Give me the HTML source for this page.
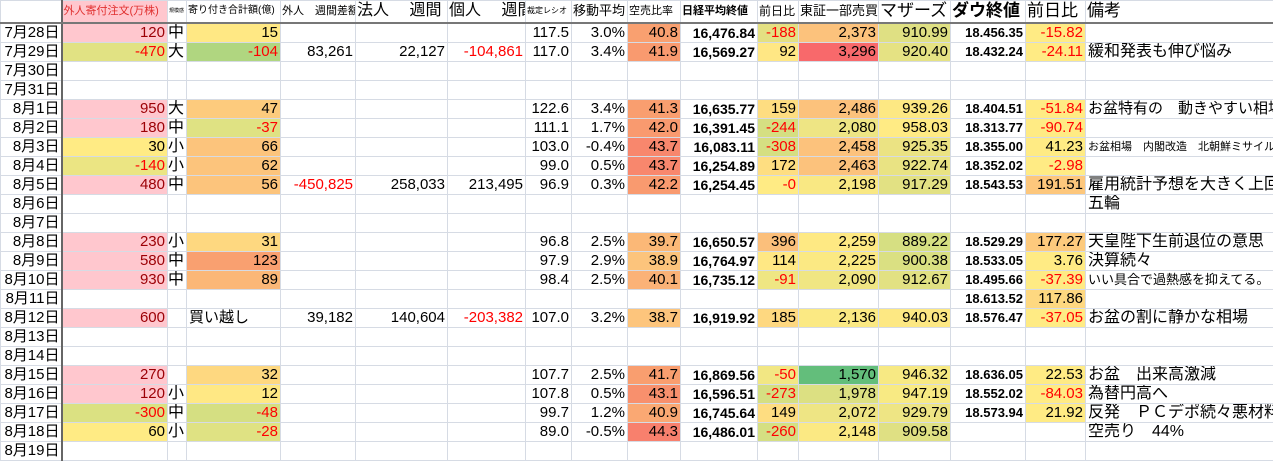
<!DOCTYPE html>
<html><head><meta charset="utf-8"><style>
body{margin:0;background:#fff;width:1273px;height:445px;overflow:hidden}
table{width:1273px;border-collapse:collapse;table-layout:fixed;font-family:"Liberation Sans","Noto Sans CJK JP",sans-serif;font-size:15px;color:#000}
td{height:18px;border:1px solid #d6dbe4;padding:0 2px;text-align:right;white-space:nowrap;overflow:hidden;line-height:18px;box-sizing:border-box}
tr{height:19px}
tr.h{height:22px}
tr.h td{height:22px;border-bottom:2px solid #777;font-size:13px;text-align:left;padding:0 1px}
td.d{border-right:2px solid #666;text-align:right;padding:0 1px}
.n{color:#f00}.p{background:#ffc7ce;color:#9c0006}
.b{font-weight:bold;font-size:14px}.bs{font-weight:bold;font-size:13px}
td.l{text-align:left}
td.s{text-align:left;padding:0;font-size:16px}
</style></head><body>
<table>
<colgroup><col style="width:61px"><col style="width:106px"><col style="width:19px"><col style="width:94px"><col style="width:75px"><col style="width:92px"><col style="width:78px"><col style="width:46px"><col style="width:56px"><col style="width:53px"><col style="width:77px"><col style="width:41px"><col style="width:80px"><col style="width:72px"><col style="width:75px"><col style="width:60px"><col style="width:188px"></colgroup>
<tr class="h"><td class="d"></td><td style="background:#ffc7ce;color:#e0302f;font-size:11px">外人寄付注文(万株)</td><td style="font-size:5px">規模感</td><td style="font-size:10px">寄り付き合計額(億)</td><td style="font-size:11px">外人　週間差額</td><td style="font-size:16px">法人　 週間</td><td style="font-size:16px">個人　 週間</td><td style="font-size:8px">裁定レシオ</td><td style="font-size:13px">移動平均</td><td style="font-size:11px">空売比率</td><td style="font-size:11px;font-weight:bold">日経平均終値</td><td style="font-size:12px">前日比</td><td style="font-size:13px">東証一部売買</td><td style="font-size:17px">マザーズ</td><td style="font-size:17px;font-weight:bold">ダウ終値</td><td style="font-size:17px">前日比</td><td style="font-size:17px">備考</td></tr>
<tr><td class="d">7月28日</td><td class="p">120</td><td class="s">中</td><td style="background:#ffe884">15</td><td></td><td></td><td></td><td>117.5</td><td>3.0%</td><td style="background:#f9a070">40.8</td><td class="b">16,476.84</td><td class="n" style="background:#e4e082">-188</td><td style="background:#fcc27c">2,373</td><td style="background:#dfe083">910.99</td><td class="bs">18.456.35</td><td class="n" style="background:#ffeb84">-15.82</td><td></td></tr>
<tr><td class="d">7月29日</td><td class="n" style="background:#e1e283">-470</td><td class="s">大</td><td class="n" style="background:#b0d680">-104</td><td>83,261</td><td>22,127</td><td class="n">-104,861</td><td>117.0</td><td>3.4%</td><td style="background:#f99a6f">41.9</td><td class="b">16,569.27</td><td style="background:#ffe784">92</td><td style="background:#f8696b">3,296</td><td style="background:#e5e283">920.40</td><td class="bs">18.432.24</td><td class="n" style="background:#ffeb84">-24.11</td><td class="l" style="font-size:16px">緩和発表も伸び悩み</td></tr>
<tr><td class="d">7月30日</td><td></td><td></td><td></td><td></td><td></td><td></td><td></td><td></td><td></td><td></td><td></td><td></td><td></td><td></td><td></td><td></td></tr>
<tr><td class="d">7月31日</td><td></td><td></td><td></td><td></td><td></td><td></td><td></td><td></td><td></td><td></td><td></td><td></td><td></td><td></td><td></td><td></td></tr>
<tr><td class="d">8月1日</td><td class="p">950</td><td class="s">大</td><td style="background:#fdcb7d">47</td><td></td><td></td><td></td><td>122.6</td><td>3.4%</td><td style="background:#f99e6f">41.3</td><td class="b">16,635.77</td><td style="background:#fedd81">159</td><td style="background:#fcc27c">2,486</td><td style="background:#fde883">939.26</td><td class="bs">18.404.51</td><td class="n" style="background:#ffeb84">-51.84</td><td class="l">お盆特有の　動きやすい相場</td></tr>
<tr><td class="d">8月2日</td><td class="p">180</td><td class="s">中</td><td class="n" style="background:#dfe283">-37</td><td></td><td></td><td></td><td>111.1</td><td>1.7%</td><td style="background:#f99a6f">42.0</td><td class="b">16,391.45</td><td class="n" style="background:#d5df82">-244</td><td style="background:#eee584">2,080</td><td style="background:#ffeb84">958.03</td><td class="bs">18.313.77</td><td class="n" style="background:#ffeb84">-90.74</td><td></td></tr>
<tr><td class="d">8月3日</td><td style="background:#ffeb84">30</td><td class="s">小</td><td style="background:#fcc47c">66</td><td></td><td></td><td></td><td>103.0</td><td>-0.4%</td><td style="background:#f8876d">43.7</td><td class="b">16,083.11</td><td class="n" style="background:#d5df82">-308</td><td style="background:#fcc27c">2,458</td><td style="background:#ebe383">925.35</td><td class="bs">18.355.00</td><td style="background:#ffeb84">41.23</td><td class="l" style="font-size:11px">お盆相場　内閣改造　北朝鮮ミサイル</td></tr>
<tr><td class="d">8月4日</td><td class="n" style="background:#ebe583">-140</td><td class="s">小</td><td style="background:#fcc47c">62</td><td></td><td></td><td></td><td>99.0</td><td>0.5%</td><td style="background:#f8876d">43.7</td><td class="b">16,254.89</td><td style="background:#fede81">172</td><td style="background:#fcc27c">2,463</td><td style="background:#e9e383">922.74</td><td class="bs">18.352.02</td><td class="n" style="background:#ffeb84">-2.98</td><td></td></tr>
<tr><td class="d">8月5日</td><td class="p">480</td><td class="s">中</td><td style="background:#fcc47c">56</td><td class="n">-450,825</td><td>258,033</td><td>213,495</td><td>96.9</td><td>0.3%</td><td style="background:#f99a6f">42.2</td><td class="b">16,254.45</td><td class="n" style="background:#ffeb84">-0</td><td style="background:#f9e883">2,198</td><td style="background:#e2e183">917.29</td><td class="bs">18.543.53</td><td style="background:#fdc77c">191.51</td><td class="l" style="font-size:16px">雇用統計予想を大きく上回る</td></tr>
<tr><td class="d">8月6日</td><td></td><td></td><td></td><td></td><td></td><td></td><td></td><td></td><td></td><td></td><td></td><td></td><td></td><td></td><td></td><td class="l" style="font-size:16px">五輪</td></tr>
<tr><td class="d">8月7日</td><td></td><td></td><td></td><td></td><td></td><td></td><td></td><td></td><td></td><td></td><td></td><td></td><td></td><td></td><td></td><td></td></tr>
<tr><td class="d">8月8日</td><td class="p">230</td><td class="s">小</td><td style="background:#fed880">31</td><td></td><td></td><td></td><td>96.8</td><td>2.5%</td><td style="background:#fbb877">39.7</td><td class="b">16,650.57</td><td style="background:#fbbf7b">396</td><td style="background:#fee983">2,259</td><td style="background:#d6df82">889.22</td><td class="bs">18.529.29</td><td style="background:#fdca7d">177.27</td><td class="l" style="font-size:16px">天皇陛下生前退位の意思</td></tr>
<tr><td class="d">8月9日</td><td class="p">580</td><td class="s">中</td><td style="background:#f9a070">123</td><td></td><td></td><td></td><td>97.9</td><td>2.9%</td><td style="background:#fcc47c">38.9</td><td class="b">16,764.97</td><td style="background:#ffe884">114</td><td style="background:#fbe983">2,225</td><td style="background:#dae082">900.38</td><td class="bs">18.533.05</td><td style="background:#ffeb84">3.76</td><td class="l" style="font-size:16px">決算続々</td></tr>
<tr><td class="d">8月10日</td><td class="p">930</td><td class="s">中</td><td style="background:#fbb777">89</td><td></td><td></td><td></td><td>98.4</td><td>2.5%</td><td style="background:#fbb277">40.1</td><td class="b">16,735.12</td><td class="n" style="background:#efe683">-91</td><td style="background:#f0e683">2,090</td><td style="background:#e2e183">912.67</td><td class="bs">18.495.66</td><td class="n" style="background:#ffeb84">-37.39</td><td class="l" style="font-size:13px">いい具合で過熱感を抑えてる。</td></tr>
<tr><td class="d">8月11日</td><td></td><td></td><td></td><td></td><td></td><td></td><td></td><td></td><td></td><td></td><td></td><td></td><td></td><td class="bs">18.613.52</td><td style="background:#fed880">117.86</td><td></td></tr>
<tr><td class="d">8月12日</td><td class="p">600</td><td></td><td class="l">買い越し</td><td>39,182</td><td>140,604</td><td class="n">-203,382</td><td>107.0</td><td>3.2%</td><td style="background:#fdc57c">38.7</td><td class="b">16,919.92</td><td style="background:#fed880">185</td><td style="background:#fbe983">2,136</td><td style="background:#fde883">940.03</td><td class="bs">18.576.47</td><td class="n" style="background:#ffeb84">-37.05</td><td class="l" style="font-size:16px">お盆の割に静かな相場</td></tr>
<tr><td class="d">8月13日</td><td></td><td></td><td></td><td></td><td></td><td></td><td></td><td></td><td></td><td></td><td></td><td></td><td></td><td></td><td></td><td></td></tr>
<tr><td class="d">8月14日</td><td></td><td></td><td></td><td></td><td></td><td></td><td></td><td></td><td></td><td></td><td></td><td></td><td></td><td></td><td></td><td></td></tr>
<tr><td class="d">8月15日</td><td class="p">270</td><td></td><td style="background:#fed880">32</td><td></td><td></td><td></td><td>107.7</td><td>2.5%</td><td style="background:#f99e6f">41.7</td><td class="b">16,869.56</td><td class="n" style="background:#f2e783">-50</td><td style="background:#63be7b">1,570</td><td style="background:#f7e983">946.32</td><td class="bs">18.636.05</td><td style="background:#ffeb84">22.53</td><td class="l" style="font-size:16px">お盆　出来高激減</td></tr>
<tr><td class="d">8月16日</td><td class="p">120</td><td class="s">小</td><td style="background:#ffe884">12</td><td></td><td></td><td></td><td>107.8</td><td>0.5%</td><td style="background:#f8906d">43.1</td><td class="b">16,596.51</td><td class="n" style="background:#d5df82">-273</td><td style="background:#dce082">1,978</td><td style="background:#f8ea83">947.19</td><td class="bs">18.552.02</td><td class="n" style="background:#ffeb84">-84.03</td><td class="l" style="font-size:16px">為替円高へ</td></tr>
<tr><td class="d">8月17日</td><td class="n" style="background:#dbe182">-300</td><td class="s">中</td><td class="n" style="background:#d5df82">-48</td><td></td><td></td><td></td><td>99.7</td><td>1.2%</td><td style="background:#faa873">40.9</td><td class="b">16,745.64</td><td style="background:#fedd81">149</td><td style="background:#eee584">2,072</td><td style="background:#eee584">929.79</td><td class="bs">18.573.94</td><td style="background:#ffeb84">21.92</td><td class="l" style="font-size:16px">反発　ＰＣデポ続々悪材料</td></tr>
<tr><td class="d">8月18日</td><td style="background:#ffeb84">60</td><td class="s">小</td><td class="n" style="background:#dfe283">-28</td><td></td><td></td><td></td><td>89.0</td><td>-0.5%</td><td style="background:#f8806d">44.3</td><td class="b">16,486.01</td><td class="n" style="background:#d5df82">-260</td><td style="background:#fbe983">2,148</td><td style="background:#dfe083">909.58</td><td></td><td></td><td class="l" style="font-size:16px">空売り　44%</td></tr>
<tr><td class="d">8月19日</td><td></td><td></td><td></td><td></td><td></td><td></td><td></td><td></td><td></td><td></td><td></td><td></td><td></td><td></td><td></td><td></td></tr>
</table>
</body></html>
